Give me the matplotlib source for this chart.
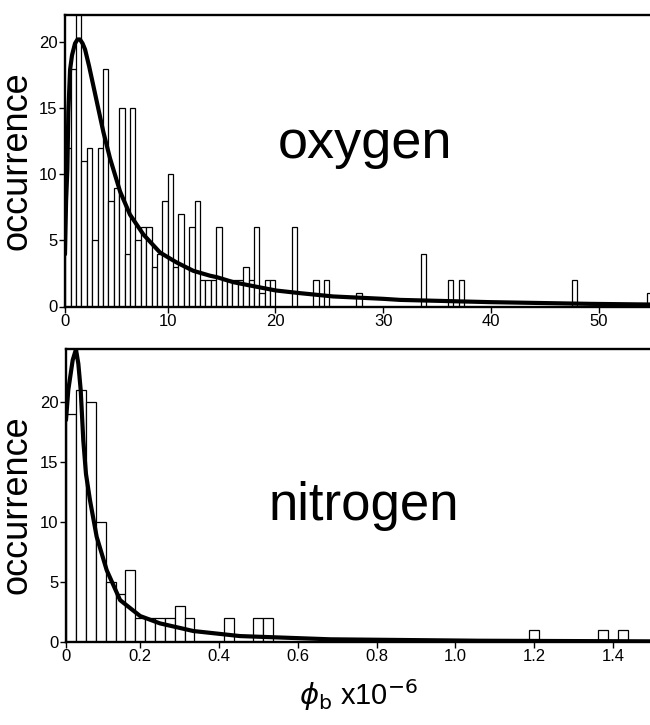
import matplotlib
matplotlib.use("Agg")
import matplotlib.pyplot as plt

plt.rcParams['font.family'] = ['Liberation Sans', 'DejaVu Sans']
plt.rcParams['mathtext.fontset'] = 'dejavusans'

# ---------------- data ----------------
# oxygen histogram (bin left edges, x10^-6) and counts, bin width 0.5
oxy_left = [0.5, 1.0, 1.5, 2.0, 2.5, 3.0, 3.5, 4.0, 4.5, 5.0, 5.5, 6.0, 6.5, 7.0,
            7.5, 8.0, 8.5, 9.0, 9.5, 10.0, 10.5, 11.0, 11.5, 12.0, 12.5, 13.0,
            13.5, 14.0, 14.5, 15.0, 15.5, 16.0, 16.5, 17.0, 17.5, 18.0, 18.5,
            19.0, 19.5, 21.5, 23.5, 24.5, 27.5, 33.5, 36.0, 37.0, 47.5, 54.5]
oxy_count = [12, 18, 23, 11, 12, 5, 12, 18, 8, 9, 15, 4, 15, 5,
             6, 6, 3, 4, 8, 10, 3, 7, 3, 6, 8, 2,
             2, 2, 6, 2, 2, 2, 2, 3, 2, 6, 1,
             2, 2, 6, 2, 2, 1, 4, 2, 2, 2, 1]
oxy_width = 0.5

# oxygen fitted curve
oxy_fit_x = [0.47, 0.57, 0.69, 0.78, 0.94, 1.12, 1.40, 1.63, 1.86, 2.10, 2.33,
             2.70, 3.10, 4.03, 4.65, 5.58, 6.50, 7.74, 9.29, 10.83, 12.37,
             13.92, 14.55, 16.09, 17.63, 20.05, 22.27, 25.36, 30.0, 31.55,
             39.9, 49.2, 54.75]
oxy_fit_y = [3.95, 7.95, 10.4, 14.7, 17.9, 19.0, 19.9, 20.2, 20.2, 19.9, 19.45,
             18.2, 16.7, 13.2, 11.2, 8.7, 6.95, 5.45, 4.08, 3.33, 2.7,
             2.33, 2.22, 1.84, 1.59, 1.21, 1.01, 0.76, 0.58, 0.5,
             0.33, 0.2, 0.15]

# nitrogen histogram (bin centres, x10^-6) and counts, bin width 0.025
nit_center = [0.025, 0.050, 0.075, 0.100, 0.125, 0.150, 0.175, 0.200, 0.225,
              0.250, 0.275, 0.300, 0.325, 0.425, 0.500, 0.525, 1.200, 1.375, 1.425]
nit_count = [19, 21, 20, 10, 5, 4, 6, 2, 2,
             2, 2, 3, 2, 2, 2, 2, 1, 1, 1]
nit_width = 0.025

# nitrogen fitted curve
nit_fit_x = [0.0117, 0.0175, 0.0287, 0.037, 0.043, 0.049, 0.0556, 0.0624,
             0.0726, 0.0896, 0.115, 0.149, 0.20, 0.25, 0.335, 0.453, 0.682,
             1.062, 1.494]
nit_fit_y = [18.5, 21.0, 23.5, 24.4, 23.2, 21.0, 16.8, 14.0,
             11.8, 8.75, 5.97, 3.47, 2.14, 1.53, 0.89, 0.47, 0.2,
             0.08, 0.03]

oxy_xticks = [0.47, 10, 20, 30, 40, 50]
oxy_xticklabels = ['0', '10', '20', '30', '40', '50']
nit_xticks = [0.0117, 0.2, 0.4, 0.6, 0.8, 1.0, 1.2, 1.4]
nit_xticklabels = ['0', '0.2', '0.4', '0.6', '0.8', '1.0', '1.2', '1.4']
yticks = [0, 5, 10, 15, 20]

# ---------------- figure ----------------
W, H = 650, 725
fig = plt.figure(figsize=(W / 100, H / 100), dpi=100)

ax1 = fig.add_axes([65 / W, 1 - 306.5 / H, (W - 65) / W, (306.5 - 15) / H])
ax2 = fig.add_axes([66 / W, 1 - 641.7 / H, (W - 66) / W, (641.7 - 349.3) / H])


def style(ax):
    for s in ['left', 'bottom', 'top']:
        ax.spines[s].set_linewidth(1.7)
    ax.spines['right'].set_visible(False)
    ax.tick_params(direction='out', length=4, width=1.0, labelsize=12,
                   pad=1.5, top=False, right=False)
    ax.set_yticks(yticks)
    ax.set_ylabel('occurrence', fontsize=26)


ax1.bar(oxy_left, oxy_count, width=oxy_width, align='edge', facecolor='white',
        edgecolor='black', linewidth=0.9, zorder=2)
ax1.plot(oxy_fit_x, oxy_fit_y, color='black', linewidth=3.0, zorder=3,
         solid_joinstyle='round', solid_capstyle='round')
ax1.set_xlim(0.47, 54.75)
ax1.set_ylim(0, 22.05)
style(ax1)
ax1.set_xticks(oxy_xticks)
ax1.set_xticklabels(oxy_xticklabels)
ax1.text(0.364, 0.509, 'oxygen', transform=ax1.transAxes, fontsize=39,
         ha='left', va='baseline')

ax2.bar(nit_center, nit_count, width=nit_width, align='center', facecolor='white',
        edgecolor='black', linewidth=0.9, zorder=2)
ax2.plot(nit_fit_x, nit_fit_y, color='black', linewidth=3.0, zorder=3,
         solid_joinstyle='round', solid_capstyle='round')
ax2.set_xlim(0.0117, 1.494)
ax2.set_ylim(0, 24.4)
style(ax2)
ax2.set_xticks(nit_xticks)
ax2.set_xticklabels(nit_xticklabels)
ax2.text(0.346, 0.416, 'nitrogen', transform=ax2.transAxes, fontsize=38,
         ha='left', va='baseline')
ax2.set_xlabel(r'$\phi_{\mathrm{b}}$ x10$^{-6}$', fontsize=21, labelpad=9)

ax1.yaxis.set_label_coords(-0.052, 0.5)
ax2.yaxis.set_label_coords(-0.054, 0.47)

fig.savefig('out.png', dpi=100)
